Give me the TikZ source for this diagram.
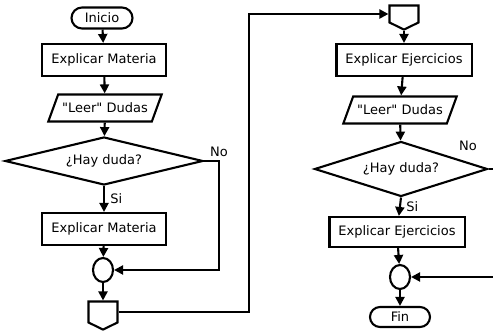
\documentclass[tikz,border=0pt]{standalone}
\usepackage{fontspec}
\setmainfont{DejaVu Sans}
\usetikzlibrary{shapes, arrows.meta, positioning, calc}
\tikzset{
  base/.style={draw, line width=2.1pt, font=\fontsize{13}{15}\selectfont, inner sep=0pt},
  terminal/.style={base, rounded rectangle, minimum width=61pt, minimum height=21pt},
  process/.style={base, rectangle, minimum height=32pt, inner xsep=9pt},
  io/.style={base, trapezium, trapezium left angle=70, trapezium right angle=110, inner xsep=4pt, inner ysep=8.5pt},
  decision/.style={base, diamond, aspect=4},
  junction/.style={base, ellipse, minimum width=20pt, minimum height=24pt},
  offpage/.style={base, signal, signal to=south, signal from=nowhere, signal pointer angle=128, minimum width=29pt, minimum height=19pt},
  flow/.style={line width=2.1pt, -{Triangle[length=9pt, width=9pt]}},
  tag/.style={font=\fontsize{13}{15}\selectfont}
}

\begin{document}
\begin{tikzpicture}[x=1pt, y=-1pt]
    \useasboundingbox (0,0) rectangle (493,336);

    % Columna izquierda
    \node[terminal] (Inicio) at (102,18) {Inicio};
    \node[process] (MatUno) at (104,60) {Explicar Materia};
    \node[io] (LeerUno) at (105,108) {\textquotedbl Leer\textquotedbl{} Dudas};
    \node[decision, minimum width=198pt, minimum height=48pt] (DudaUno) at (104,161) {¿Hay duda?};
    \node[process] (MatDos) at (104,229) {Explicar Materia};
    \node[junction] (JuntaUno) at (103,270) {};
    \node[offpage, minimum height=21pt] (SaltoUno) at (103,312) {};

    % Columna derecha
    \node[offpage, minimum height=17pt] (SaltoDos) at (404,14) {};
    \node[process] (EjerUno) at (404,60) {Explicar Ejercicios};
    \node[io] (LeerDos) at (400,110) {\textquotedbl Leer\textquotedbl{} Dudas};
    \node[decision, minimum width=173pt, minimum height=55pt] (DudaDos) at (401,169) {¿Hay duda?};
    \node[process, minimum height=30pt] (EjerDos) at (397,232) {Explicar Ejercicios};
    \node[junction] (JuntaDos) at (400,277) {};
    \node[terminal, minimum width=60pt, minimum height=20pt] (Fin) at (400,317) {Fin};

    % Puntos de paso
    \coordinate (VueltaUno) at ($(DudaUno.east)+(15,0)$);
    \coordinate (Puente) at ($(SaltoUno.east)+(130,0)$);
    \coordinate (BordeA) at (493,169);
    \coordinate (BordeB) at (493,277);

    % Flechas izquierda
    \draw[flow] (Inicio) -- (MatUno);
    \draw[flow] (MatUno) -- (LeerUno);
    \draw[flow] (LeerUno) -- (DudaUno);
    \draw[flow] (DudaUno.south) -- node[tag, right=2pt] {Si} (MatDos);
    \draw[flow] (MatDos) -- (JuntaUno);
    \draw[flow] (DudaUno.east) -- (VueltaUno) node[tag, above] {No} |- (JuntaUno.east);
    \draw[flow] (JuntaUno) -- (SaltoUno);
    \draw[flow] (SaltoUno.east) -- (Puente) |- (SaltoDos.west);

    % Flechas derecha
    \draw[flow] (SaltoDos) -- (EjerUno);
    \draw[flow] (EjerUno) -- (LeerDos);
    \draw[flow] (LeerDos) -- (DudaDos);
    \draw[flow] (DudaDos.south) -- node[tag, right=2pt] {Si} (EjerDos);
    \draw[flow] (EjerDos) -- (JuntaDos);
    \draw[flow] (JuntaDos) -- (Fin);
    \draw[line width=2.1pt] (DudaDos.east) -- (BordeA);
    \node[tag] (NoDos) at (468,146) {No};
    \draw[flow] (BordeB) -- (JuntaDos.east);
\end{tikzpicture}
\end{document}
